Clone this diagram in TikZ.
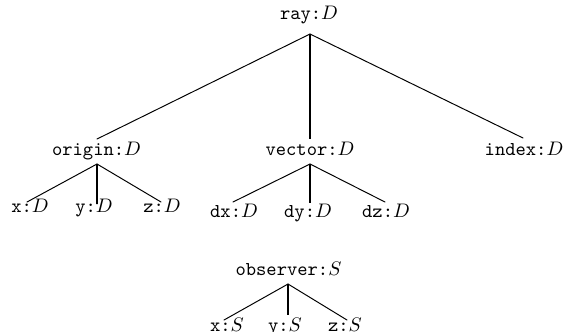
\documentclass[tikz,border=0pt]{standalone}
\begin{document}
\begin{tikzpicture}[x=0.51pt,y=-0.51pt,
  lbl/.style={anchor=base, inner sep=0pt, font=\normalsize},
  edge/.style={line width=0.5pt, line cap=round},
  vedge/.style={line width=0.8pt}]
\useasboundingbox (0,0) rectangle (563,331);
% nodes
\node[lbl] (ray)    at (309,19)  {\texttt{ray:}$D$};
\node[lbl] (origin) at (96.5,155) {\texttt{origin:}$D$};
\node[lbl] (vector) at (310,155) {\texttt{vector:}$D$};
\node[lbl] (index)  at (524,155) {\texttt{index:}$D$};
\node[lbl] (ox) at (30,212)  {\texttt{x:}$D$};
\node[lbl] (oy) at (94,212)  {\texttt{y:}$D$};
\node[lbl] (oz) at (162,212) {\texttt{z:}$D$};
\node[lbl] (dx) at (234,217) {\texttt{dx:}$D$};
\node[lbl] (dy) at (308,217) {\texttt{dy:}$D$};
\node[lbl] (dz) at (386,217) {\texttt{dz:}$D$};
\node[lbl] (observer) at (288.5,275) {\texttt{observer:}$S$};
\node[lbl] (sx) at (227,331) {\texttt{x:}$S$};
\node[lbl] (sy) at (285,331) {\texttt{y:}$S$};
\node[lbl] (sz) at (345,331) {\texttt{z:}$S$};
% edges from ray
\draw[edge] ([shift={(1,15)}]ray.base) -- ([shift={(0.5,-16)}]origin.base);
\draw[vedge] ([shift={(1,15)}]ray.base) -- ([shift={(0,-16)}]vector.base);
\draw[edge] ([shift={(1,15)}]ray.base) -- ([shift={(-1,-17)}]index.base);
% edges from origin
\draw[edge] ([shift={(0.5,9)}]origin.base) -- ([shift={(-3,-10)}]ox.base);
\draw[vedge] ([shift={(0.5,9)}]origin.base) -- ([shift={(3,-8)}]oy.base);
\draw[edge] ([shift={(0.5,9)}]origin.base) -- ([shift={(-1,-10)}]oz.base);
% edges from vector
\draw[edge] ([shift={(0,9)}]vector.base) -- ([shift={(-1,-15)}]dx.base);
\draw[vedge] ([shift={(0,9)}]vector.base) -- ([shift={(2,-14)}]dy.base);
\draw[edge] ([shift={(0,9)}]vector.base) -- ([shift={(-1,-15)}]dz.base);
% edges from observer
\draw[edge] ([shift={(-0.5,9)}]observer.base) -- ([shift={(-3,-11)}]sx.base);
\draw[vedge] ([shift={(-0.5,9)}]observer.base) -- ([shift={(3,-16)}]sy.base);
\draw[edge] ([shift={(-0.5,9)}]observer.base) -- ([shift={(2,-11)}]sz.base);
\end{tikzpicture}
\end{document}
